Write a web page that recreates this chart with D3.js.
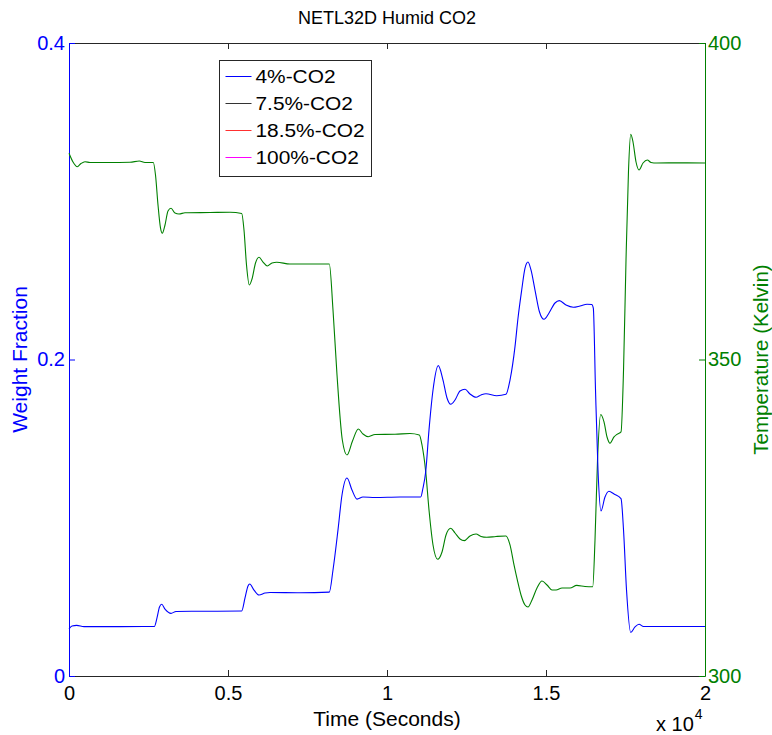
<!DOCTYPE html>
<html>
<head>
<meta charset="utf-8">
<script src="https://cdn.jsdelivr.net/npm/d3@7"></script>
<style>
  body { margin: 0; background: #fff; }
  svg { display: block; font-family: "Liberation Sans", Arial, Helvetica, sans-serif; }
</style>
</head>
<body>
<svg id="chart" width="772" height="735"></svg>
<script>
// Sorbent weight fraction (4% CO2 feed), time in seconds
const weightTime = [0,94,242,472,1604,2683,2767,2846,2915,3019,3208,3365,4120,5431,5535,5629,5683,5818,5975,6164,6321,7264,8186,8302,8459,8585,8742,8899,9057,9245,9623,10409,10881,11060,11132,11217,11321,11447,11613,11761,11887,12003,12139,12296,12453,12610,12799,12956,13113,13450,13742,13868,14025,14120,14236,14340,14434,14528,14654,14796,14937,15095,15283,15419,15629,15859,16070,16290,16437,16488,16557,16635,16730,16855,16981,17139,17359,17438,17532,17664,17799,17925,18066,18217,19214,20000];
const weightFrac = [0.0297,0.0316,0.0320,0.0312,0.0312,0.0313,0.0367,0.0436,0.0453,0.0423,0.0396,0.0408,0.0409,0.0411,0.0493,0.0569,0.0581,0.0543,0.0512,0.0524,0.0528,0.0526,0.0530,0.0670,0.0923,0.1144,0.1251,0.1175,0.1118,0.1131,0.1128,0.1131,0.1131,0.1131,0.1188,0.1291,0.1555,0.1807,0.1961,0.1870,0.1757,0.1717,0.1744,0.1801,0.1812,0.1782,0.1761,0.1776,0.1784,0.1771,0.1780,0.1870,0.2081,0.2262,0.2439,0.2578,0.2616,0.2566,0.2439,0.2300,0.2254,0.2294,0.2357,0.2372,0.2344,0.2330,0.2338,0.2349,0.2348,0.2325,0.1807,0.1302,0.1043,0.1131,0.1167,0.1150,0.1121,0.0923,0.0543,0.0275,0.0310,0.0327,0.0313,0.0313,0.0313,0.0313];

// Bed temperature in Kelvin
const tempTime = [0,126,261,377,503,660,1289,1918,2211,2390,2651,2720,2799,2877,2934,3019,3113,3208,3333,3459,3648,4434,5063,5431,5503,5582,5670,5755,5865,5975,6101,6236,6384,6532,6950,7579,8186,8302,8428,8595,8742,8915,9098,9245,9412,9623,10252,10723,11016,11101,11217,11321,11447,11594,11730,11856,12003,12139,12296,12431,12610,12799,12956,13135,13428,13742,13868,13994,14098,14214,14340,14434,14560,14717,14874,15032,15189,15315,15504,15755,15965,16226,16469,16541,16620,16721,16824,16919,17013,17139,17233,17359,17438,17516,17595,17664,17736,17831,17925,18051,18186,18303,18482,19214,20000];
const tempKelvin = [382.58,381.20,380.46,380.96,381.25,381.12,381.12,381.15,381.36,381.12,381.12,379.15,374.41,370.78,369.94,371.25,373.46,373.89,373.15,372.99,373.18,373.22,373.26,373.07,370.46,364.93,361.77,362.72,365.25,366.15,365.40,364.77,365.25,365.36,365.09,365.09,365.09,357.82,347.55,337.28,334.91,337.13,339.02,338.23,337.80,338.15,338.18,338.31,338.07,336.49,332.28,326.22,320.70,318.44,319.59,322.28,323.33,322.59,321.64,321.38,322.12,322.43,322.04,321.91,322.04,322.12,320.70,317.54,315.17,312.80,311.22,310.90,312.01,313.90,315.01,314.38,313.59,313.59,313.90,313.90,314.31,314.14,314.09,321.49,334.12,341.30,340.13,337.76,336.78,337.76,338.18,338.55,348.34,365.72,379.94,385.58,384.36,381.20,379.94,381.04,381.52,381.12,381.04,381.07,381.04];

// Legend entries
const seriesNames = ["4%-CO2", "7.5%-CO2", "18.5%-CO2", "100%-CO2"];
const seriesColors = ["#0000ff", "#333333", "#ff3030", "#ff00ff"];

// Tick values
const xTicks = [0, 5000, 10000, 15000, 20000];
const leftTicks = [0, 0.2, 0.4];
const rightTicks = [300, 350, 400];

(function draw() {
  const svg = d3.select("#chart");
  const pLeft = 69, pRight = 705, pTop = 43, pBottom = 676;
  const blue = "#0000ff", green = "#008000", axisGray = "#262626";

  const x = d3.scaleLinear().domain([0, 20000]).range([pLeft, pRight]);
  const yL = d3.scaleLinear().domain([0, 0.4]).range([pBottom, pTop]);
  const yR = d3.scaleLinear().domain([300, 400]).range([pBottom, pTop]);

  // Title
  svg.append("text").attr("x", 387).attr("y", 24).attr("text-anchor", "middle")
    .attr("font-size", 18).attr("fill", "#000").text("NETL32D Humid CO2");

  // Bottom axis
  const gx = svg.append("g").attr("transform", `translate(0,${pBottom})`)
    .call(d3.axisBottom(x).tickValues(xTicks).tickSize(-6).tickSizeOuter(0).tickPadding(10)
      .tickFormat(d => d3.format("~g")(d / 1e4)));
  gx.select(".domain").attr("stroke", axisGray);
  gx.selectAll(".tick line").attr("stroke", axisGray);
  gx.selectAll("text").attr("font-size", 20).attr("fill", "#000");
  gx.attr("font-family", null).attr("font-size", null);

  // Top axis (box edge)
  const gt = svg.append("g").attr("transform", `translate(0,${pTop})`)
    .call(d3.axisTop(x).tickValues(xTicks).tickSize(-6).tickSizeOuter(0).tickFormat(""));
  gt.select(".domain").attr("stroke", axisGray);
  gt.selectAll(".tick line").attr("stroke", axisGray);

  // Left axis (weight fraction)
  const gl = svg.append("g").attr("transform", `translate(${pLeft},0)`)
    .call(d3.axisLeft(yL).tickValues(leftTicks).tickSize(-6).tickSizeOuter(0).tickPadding(4)
      .tickFormat(d3.format("~g")));
  gl.select(".domain").attr("stroke", blue);
  gl.selectAll(".tick line").attr("stroke", blue);
  gl.selectAll("text").attr("font-size", 20).attr("fill", blue);
  gl.attr("font-family", null).attr("font-size", null);

  // Right axis (temperature)
  const gr = svg.append("g").attr("transform", `translate(${pRight},0)`)
    .call(d3.axisRight(yR).tickValues(rightTicks).tickSize(-6).tickSizeOuter(0).tickPadding(3));
  gr.select(".domain").attr("stroke", green);
  gr.selectAll(".tick line").attr("stroke", green);
  gr.selectAll("text").attr("font-size", 20).attr("fill", green);
  gr.attr("font-family", null).attr("font-size", null);

  // Axis titles
  svg.append("text").attr("transform", `translate(27,${(pTop + pBottom) / 2}) rotate(-90)`)
    .attr("text-anchor", "middle").attr("font-size", 21).attr("fill", blue).text("Weight Fraction");
  svg.append("text").attr("transform", `translate(768,${(pTop + pBottom) / 2}) rotate(-90)`)
    .attr("text-anchor", "middle").attr("font-size", 20.5).attr("fill", green).text("Temperature (Kelvin)");
  svg.append("text").attr("x", 387).attr("y", 726).attr("text-anchor", "middle")
    .attr("font-size", 21).attr("fill", "#000").text("Time (Seconds)");

  // Exponent label for the time axis
  const expo = svg.append("text").attr("x", 656).attr("y", 731).attr("font-size", 20).attr("fill", "#000");
  expo.append("tspan").text("x 10");
  expo.append("tspan").attr("dx", 1).attr("dy", -12).attr("font-size", 14).text("4");

  // Data lines
  const plot = svg.append("g");
  const weightLine = d3.line().x(i => x(weightTime[i])).y(i => yL(weightFrac[i])).curve(d3.curveMonotoneX);
  const tempLine = d3.line().x(i => x(tempTime[i])).y(i => yR(tempKelvin[i])).curve(d3.curveMonotoneX);

  plot.append("path").attr("d", tempLine(d3.range(tempTime.length)))
    .attr("fill", "none").attr("stroke", green).attr("stroke-width", 1.1);
  plot.append("path").attr("d", weightLine(d3.range(weightTime.length)))
    .attr("fill", "none").attr("stroke", seriesColors[0]).attr("stroke-width", 1.1);

  // Legend
  const lg = svg.append("g").attr("transform", "translate(219.5,60.5)");
  lg.append("rect").attr("width", 152).attr("height", 116)
    .attr("fill", "#fff").attr("stroke", axisGray).attr("stroke-width", 1);
  seriesNames.forEach((name, i) => {
    const cy = 16 + i * 27;
    lg.append("line").attr("x1", 6).attr("x2", 32).attr("y1", cy).attr("y2", cy)
      .attr("stroke", seriesColors[i]).attr("stroke-width", 1);
    lg.append("text").attr("transform", `translate(36,${cy}) scale(1.16,1)`)
      .attr("dy", "0.36em").attr("font-size", 18).attr("fill", "#000").text(name);
  });
})();
</script>
</body>
</html>
